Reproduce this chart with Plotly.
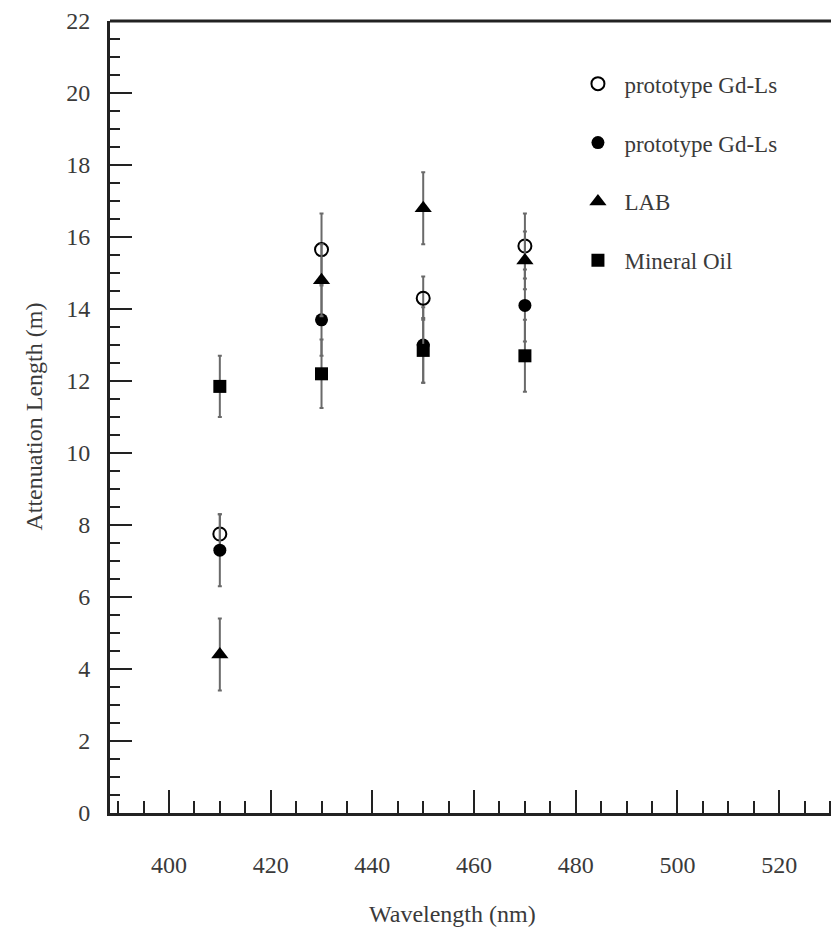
import plotly.graph_objects as go

# Wavelengths at which the attenuation length was measured (nm)
wavelength = [410, 430, 450, 470]

# Attenuation lengths (m) and their uncertainties
gdls_open = [7.75, 15.65, 14.3, 15.75]
gdls_open_err = [0.55, 1.0, 0.6, 0.9]

gdls_filled = [7.3, 13.7, 13.0, 14.1]
gdls_filled_err = [1.0, 1.0, 1.05, 1.0]

lab = [4.4, 14.8, 16.8, 15.35]
lab_err = [1.0, 1.0, 1.0, 0.8]

mineral_oil = [11.85, 12.2, 12.85, 12.7]
mineral_oil_err = [0.85, 0.95, 0.9, 1.0]

x_ticks = [400, 420, 440, 460, 480, 500, 520]
y_ticks = [0, 2, 4, 6, 8, 10, 12, 14, 16, 18, 20, 22]

FONT = "Liberation Serif"
TEXT = "#3a3a3a"
BAR = "#6a6a6a"

series = [
    ("prototype Gd-Ls", gdls_open, gdls_open_err, "circle-open", 13),
    ("prototype Gd-Ls", gdls_filled, gdls_filled_err, "circle", 13),
    ("LAB", lab, lab_err, "triangle-up", 15),
    ("Mineral Oil", mineral_oil, mineral_oil_err, "square", 13),
]

fig = go.Figure()
for i, (name, vals, errs, sym, size) in enumerate(series):
    fig.add_trace(go.Scatter(
        x=wavelength, y=vals, name=name, mode="markers",
        legendgroup=f"g{i}",
        marker=dict(symbol=sym, size=size, color="black",
                    line=dict(color="black", width=2 if sym == "circle-open" else 0)),
        error_y=dict(type="data", array=errs, visible=True,
                     color=BAR, thickness=2, width=2),
    ))

fig.update_layout(
    width=831, height=937,
    margin=dict(l=110, r=0, t=21, b=124),
    paper_bgcolor="white", plot_bgcolor="white",
    font=dict(family=FONT, color=TEXT, size=22),
    showlegend=True,
    legend=dict(
        x=0.64, y=0.948, xanchor="left", yanchor="top",
        font=dict(family=FONT, size=23, color=TEXT),
        bgcolor="rgba(0,0,0,0)", borderwidth=0,
        traceorder="grouped", tracegroupgap=26, itemwidth=43,
    ),
    xaxis=dict(
        range=[388.4, 530.2], tickvals=x_ticks, ticktext=[str(v) for v in x_ticks],
        ticks="inside", ticklen=23, tickwidth=2, tickcolor="#222",
        showline=True, linecolor="#222", linewidth=3,
        showgrid=False, zeroline=False,
        tickfont=dict(family=FONT, size=24, color=TEXT),
        ticklabelstandoff=28,
        minor=dict(dtick=5, tick0=0, ticks="inside", ticklen=12,
                   tickwidth=2, tickcolor="#222", showgrid=False),
    ),
    yaxis=dict(
        range=[0, 22], tickvals=y_ticks, ticktext=[str(v) for v in y_ticks],
        ticks="inside", ticklen=22, tickwidth=2, tickcolor="#222",
        showline=True, linecolor="#222", linewidth=3,
        showgrid=False, zeroline=False,
        tickfont=dict(family=FONT, size=24, color=TEXT),
        ticklabelstandoff=12,
        minor=dict(dtick=0.5, tick0=0, ticks="inside", ticklen=10,
                   tickwidth=2, tickcolor="#222", showgrid=False),
    ),
    shapes=[dict(type="line", xref="paper", yref="paper",
                 x0=0, x1=1, y0=1, y1=1,
                 line=dict(color="#222", width=3))],
    annotations=[
        dict(text="Wavelength (nm)", xref="paper", yref="paper",
             x=0.475, y=-0.128, xanchor="center", yanchor="middle",
             showarrow=False, font=dict(family=FONT, size=24, color=TEXT)),
        dict(text="Attenuation Length (m)", xref="paper", yref="paper",
             x=-0.106, y=0.5, xanchor="center", yanchor="middle", textangle=-90,
             showarrow=False, font=dict(family=FONT, size=24, color=TEXT)),
    ],
)

fig.write_html("out.html")
